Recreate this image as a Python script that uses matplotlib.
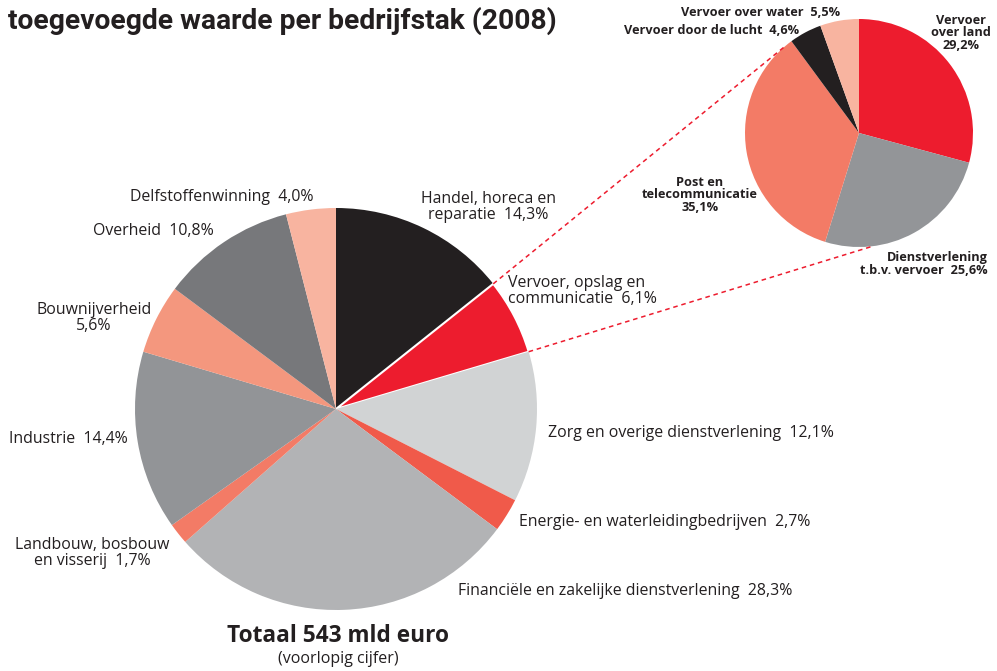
import numpy as np
import matplotlib
matplotlib.use("Agg")
import matplotlib.pyplot as plt

# main pie: share of value added per sector (2008)
main_labels = ["Handel, horeca en\nreparatie  14,3%", "Vervoer, opslag en\ncommunicatie  6,1%",
               "Zorg en overige dienstverlening  12,1%", "Energie- en waterleidingbedrijven  2,7%",
               "Financiële en zakelijke dienstverlening  28,3%", "Landbouw, bosbouw\nen visserij  1,7%",
               "Industrie  14,4%", "Bouwnijverheid\n5,6%", "Overheid  10,8%", "Delfstoffenwinning  4,0%"]
main_values = [14.3, 6.1, 12.1, 2.7, 28.3, 1.7, 14.4, 5.6, 10.8, 4.0]
main_colors = ["#231f20", "#ed1c2e", "#d1d3d4", "#f05a4a", "#b2b3b5",
               "#f37b66", "#929497", "#f4977e", "#77787b", "#f8b4a0"]

# detail pie: breakdown of transport
sub_labels = ["Vervoer\nover land\n29,2%", "Dienstverlening\nt.b.v. vervoer  25,6%",
              "Post en\ntelecommunicatie\n35,1%", "Vervoer door de lucht  4,6%",
              "Vervoer over water  5,5%"]
sub_values = [29.2, 25.6, 35.1, 4.6, 5.5]
sub_colors = ["#ed1c2e", "#939598", "#f37b66", "#231f20", "#f8b4a0"]

W, H = 997, 671
fig = plt.figure(figsize=(W / 100, H / 100), dpi=100)
ax = fig.add_axes([0, 0, 1, 1])

font = ["Open Sans", "DejaVu Sans"]
txt = "#231f20"

def Y(y):
    return H - y

c1, r1 = (336, Y(409)), 201
c2, r2 = (859, Y(133)), 114

wedges, _ = ax.pie(main_values, colors=main_colors, startangle=90, counterclock=False,
                   center=c1, radius=r1, frame=True)
wedges[1].set_edgecolor("white")
wedges[1].set_linewidth(1.5)
ax.pie(sub_values, colors=sub_colors, startangle=90, counterclock=False,
       center=c2, radius=r2, frame=True)
ax.set_xlim(0, W)
ax.set_ylim(0, H)
ax.axis("off")

# dashed connectors from the transport wedge to the detail pie
a_start = np.deg2rad(90 - main_values[0] * 3.6)
a_end = np.deg2rad(90 - (main_values[0] + main_values[1]) * 3.6)
for a1, a2 in [(a_start, np.deg2rad(131)), (a_end, np.deg2rad(-83))]:
    p1 = (c1[0] + r1 * np.cos(a1), c1[1] + r1 * np.sin(a1))
    p2 = (c2[0] + r2 * np.cos(a2), c2[1] + r2 * np.sin(a2))
    ax.plot([p1[0], p2[0]], [p1[1], p2[1]], color="#ed1c2e", lw=1.1,
            linestyle=(0, (3, 2.5)))

# main labels: (x, y, ha)
main_pos = [(488, 207, "center"), (508, 291, "left"), (548, 433, "left"), (519, 522, "left"),
            (458, 591, "left"), (92, 553, "center"), (128, 439, "right"), (94, 318, "center"),
            (214, 231, "right"), (313, 197, "right")]
for lab, (x, y, ha) in zip(main_labels, main_pos):
    ax.text(x, Y(y), lab, ha=ha, va="center", fontsize=11.4, family=font, color=txt,
            linespacing=1.0)

sub_pos = [(961, 33, "center"), (988, 264, "right"), (700, 195, "center"),
           (799, 30, "right"), (840, 12, "right")]
for lab, (x, y, ha) in zip(sub_labels, sub_pos):
    ax.text(x, Y(y), lab, ha=ha, va="center", fontsize=9.2, family=font, color=txt,
            fontweight="bold", linespacing=0.95)

ax.text(8, Y(29), "toegevoegde waarde per bedrijfstak (2008)", ha="left", va="baseline",
        fontsize=20.3, fontweight="bold", color=txt, family=["Roboto", "DejaVu Sans"])
ax.text(338, Y(636), "Totaal 543 mld euro", ha="center", va="center", fontsize=16.3,
        fontweight="bold", family=font, color=txt)
ax.text(338, Y(659), "(voorlopig cijfer)", ha="center", va="center", fontsize=11.5,
        family=font, color=txt)

fig.savefig("out.png", dpi=100)
